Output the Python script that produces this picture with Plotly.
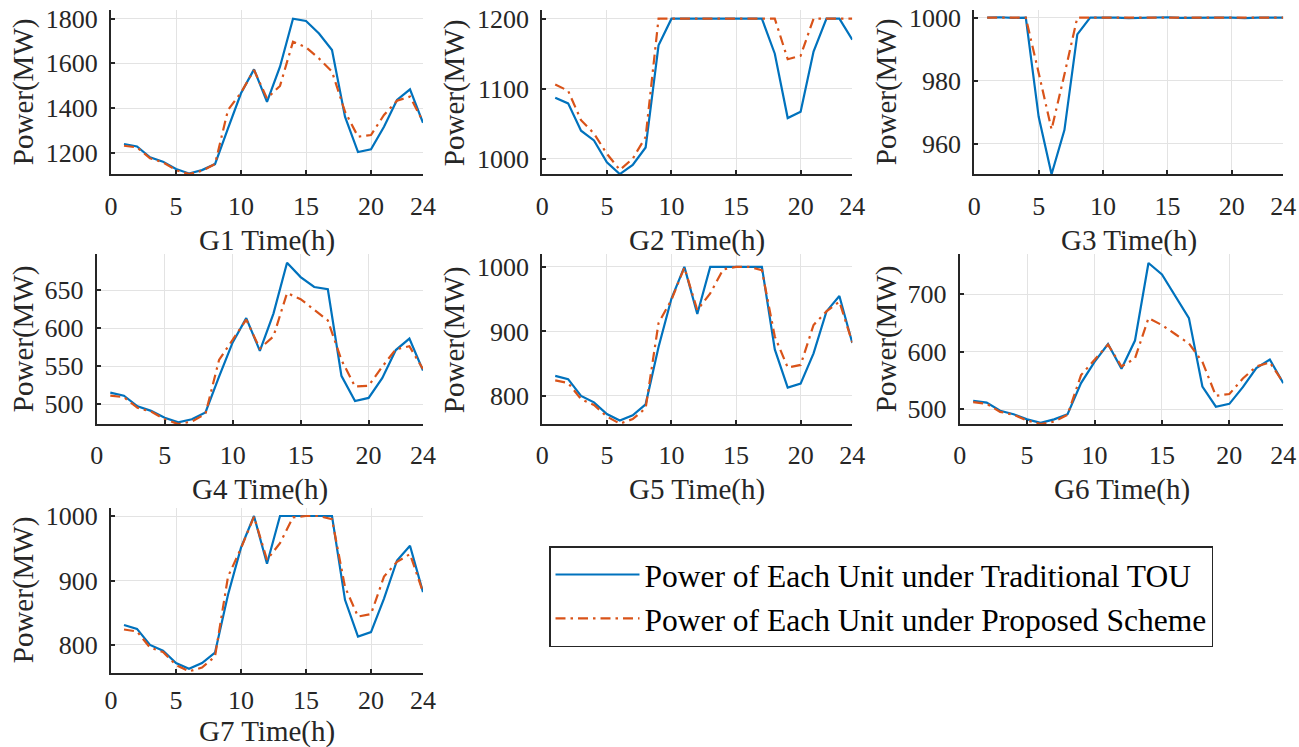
import plotly.graph_objects as go

hours = list(range(1, 25))

g1_tou = [1239, 1228, 1179, 1160, 1127, 1107, 1122, 1149, 1309, 1466, 1573, 1428,
          1585, 1800, 1790, 1734, 1660, 1361, 1203, 1215, 1316, 1436, 1484, 1334]
g1_new = [1231, 1224, 1175, 1157, 1122, 1104, 1119, 1149, 1391, 1469, 1570, 1443,
          1499, 1697, 1672, 1622, 1563, 1384, 1272, 1279, 1369, 1433, 1451, 1339]

g2_tou = [1087, 1079, 1040, 1026, 995, 978, 991, 1016, 1162, 1200, 1200, 1200,
          1200, 1200, 1200, 1200, 1200, 1150, 1058, 1067, 1153, 1200, 1200, 1170]
g2_new = [1106, 1097, 1055, 1036, 1007, 984, 1000, 1031, 1200, 1200, 1200, 1200,
          1200, 1200, 1200, 1200, 1200, 1200, 1142, 1147, 1200, 1200, 1200, 1200]

g3_tou = [1000, 1000.1, 999.9, 1000, 968.6, 950.4, 964.4, 994.7, 1000, 1000.1, 1000, 999.8,
          999.9, 1000, 1000.1, 999.9, 1000, 1000, 1000, 1000, 999.8, 1000, 1000, 1000]
g3_new = [1000, 1000, 1000, 1000, 982.5, 964.6, 982.0, 1000, 1000, 1000, 1000, 999.9,
          1000, 1000, 1000, 999.9, 999.8, 1000, 999.9, 999.9, 1000, 1000, 1000, 1000]

g4_tou = [515, 511, 497, 491, 482, 476, 480, 489, 536, 581, 613, 570,
          619, 686, 667, 654, 651, 537, 504, 508, 534, 571, 586, 544]
g4_new = [511, 509, 495, 490, 480, 473.5, 477, 487, 558, 584, 611, 573,
          589, 646, 638, 624, 610, 558, 523, 524, 549, 572, 576, 546]

g5_tou = [831, 826, 800, 790, 772, 762, 770, 787, 876, 951, 1000, 927,
          1000, 1000, 1000, 1000, 1000, 872, 813, 819, 866, 931, 955, 882]
g5_new = [824, 820, 795, 786, 768, 757, 764, 781, 913, 949, 999, 933,
          959, 996, 1000, 1000, 995, 892, 844, 848, 910, 931, 946, 883]

g6_tou = [514, 511, 497, 491, 482, 476, 482, 491, 545, 582, 613, 570,
          619, 754, 734, 697, 658, 539, 504, 509, 538, 571, 586, 545]
g6_new = [512, 509, 495, 490, 480, 474, 478, 490, 559, 585, 612, 574,
          588, 658, 646, 630, 614, 582, 523, 526, 553, 574, 581, 546]

g7_tou = [831, 825, 800, 791, 772, 763, 772, 788, 878, 951, 1000, 926,
          1000, 1000, 1000, 1000, 1000, 870, 813, 820, 872, 931, 954, 882]
g7_new = [824, 821, 796, 789, 769, 759, 765, 782, 906, 950, 999, 932,
          958, 998, 1000, 1000, 995, 890, 844, 848, 906, 929, 941, 882]

names = ["G1", "G2", "G3", "G4", "G5", "G6", "G7"]
tou_series = [g1_tou, g2_tou, g3_tou, g4_tou, g5_tou, g6_tou, g7_tou]
new_series = [g1_new, g2_new, g3_new, g4_new, g5_new, g6_new, g7_new]
ytick_vals = [[1200, 1400, 1600, 1800], [1000, 1100, 1200], [960, 980, 1000],
              [500, 550, 600, 650], [800, 900, 1000], [500, 600, 700], [800, 900, 1000]]
xtick_vals = [0, 5, 10, 15, 20, 24]
legend_names = ["Power of Each Unit under Traditional TOU",
                "Power of Each Unit under Proposed Scheme"]

# layout (pixel geometry of each axes box)
W, H = 1299, 747
boxes = [  # x0, x1, ytop, ybottom in px
    (111, 423, 10, 174.3), (542.3, 852.3, 10, 174.3), (974.3, 1283.3, 10, 174.3),
    (96.7, 423, 254, 424.3), (542.3, 852.3, 254, 424.3), (959.7, 1283.3, 254, 424.3),
    (111, 423, 507.7, 672.7),
]
yranges = [(1103.3, 1839), (977.7, 1212.4), (950.4, 1002.4), (473.3, 697.4),
           (756, 1020), (473.4, 769.6), (757, 1012.9)]
ytitle_x = [23, 454, 886, 23, 454, 886, 23]
xtitle_off = [66, 66, 66, 65, 65, 65, 58.5]
xlabel_standoff = [7, 7, 7, 6, 6, 6, 3]

BLUE = "#0072BD"
ORANGE = "#D95319"
AX = "#262626"
FONT = "'Liberation Serif', 'Times New Roman', 'DejaVu Serif', serif"

fig = go.Figure()
annotations = []
for i in range(7):
    ax = "" if i == 0 else str(i + 1)
    fig.add_trace(go.Scatter(x=hours, y=tou_series[i], mode="lines",
                             line=dict(color=BLUE, width=2.2),
                             name=legend_names[0], showlegend=(i == 0),
                             xaxis="x" + ax, yaxis="y" + ax))
    fig.add_trace(go.Scatter(x=hours, y=new_series[i], mode="lines",
                             line=dict(color=ORANGE, width=2.2, dash="10px,5px,2.5px,5px"),
                             name=legend_names[1], showlegend=(i == 0),
                             xaxis="x" + ax, yaxis="y" + ax))
    x0, x1, yt, yb = boxes[i]
    common = dict(showline=True, linecolor=AX, linewidth=2, ticks="inside",
                  ticklen=4, tickwidth=1.5, tickcolor=AX, showgrid=True,
                  gridcolor="#e3e3e3", gridwidth=1, zeroline=False,
                  tickfont=dict(family=FONT, size=26, color=AX), automargin=False)
    fig.update_layout(**{
        "xaxis" + ax: dict(domain=[x0 / W, x1 / W], range=[0, 24], tickvals=xtick_vals,
                           anchor="y" + ax, ticklabelstandoff=xlabel_standoff[i], **common),
        "yaxis" + ax: dict(domain=[1 - yb / H, 1 - yt / H], range=list(yranges[i]),
                           tickvals=ytick_vals[i], anchor="x" + ax,
                           ticklabelstandoff=6, **common),
    })
    annotations.append(dict(text=f"{names[i]} Time(h)", xref="paper", yref="paper",
                            x=(x0 + x1) / 2 / W, y=1 - (yb + xtitle_off[i]) / H,
                            xanchor="center", yanchor="middle", showarrow=False,
                            font=dict(family=FONT, size=29, color=AX)))
    annotations.append(dict(text="Power(MW)", xref="paper", yref="paper",
                            x=ytitle_x[i] / W, y=1 - (yt + yb) / 2 / H, textangle=-90,
                            xanchor="center", yanchor="middle", showarrow=False,
                            font=dict(family=FONT, size=29, color=AX)))

fig.update_layout(
    width=W, height=H,
    margin=dict(l=0, r=0, t=0, b=0),
    paper_bgcolor="white", plot_bgcolor="white",
    annotations=annotations,
    showlegend=True,
    legend=dict(x=549 / W, y=1 - 546 / H, xanchor="left", yanchor="top",
                bordercolor="#262626", borderwidth=1.5, bgcolor="white",
                font=dict(family=FONT, size=31.5, color="black"),
                itemwidth=84, tracegroupgap=0),
)

fig.write_html("out.html")
